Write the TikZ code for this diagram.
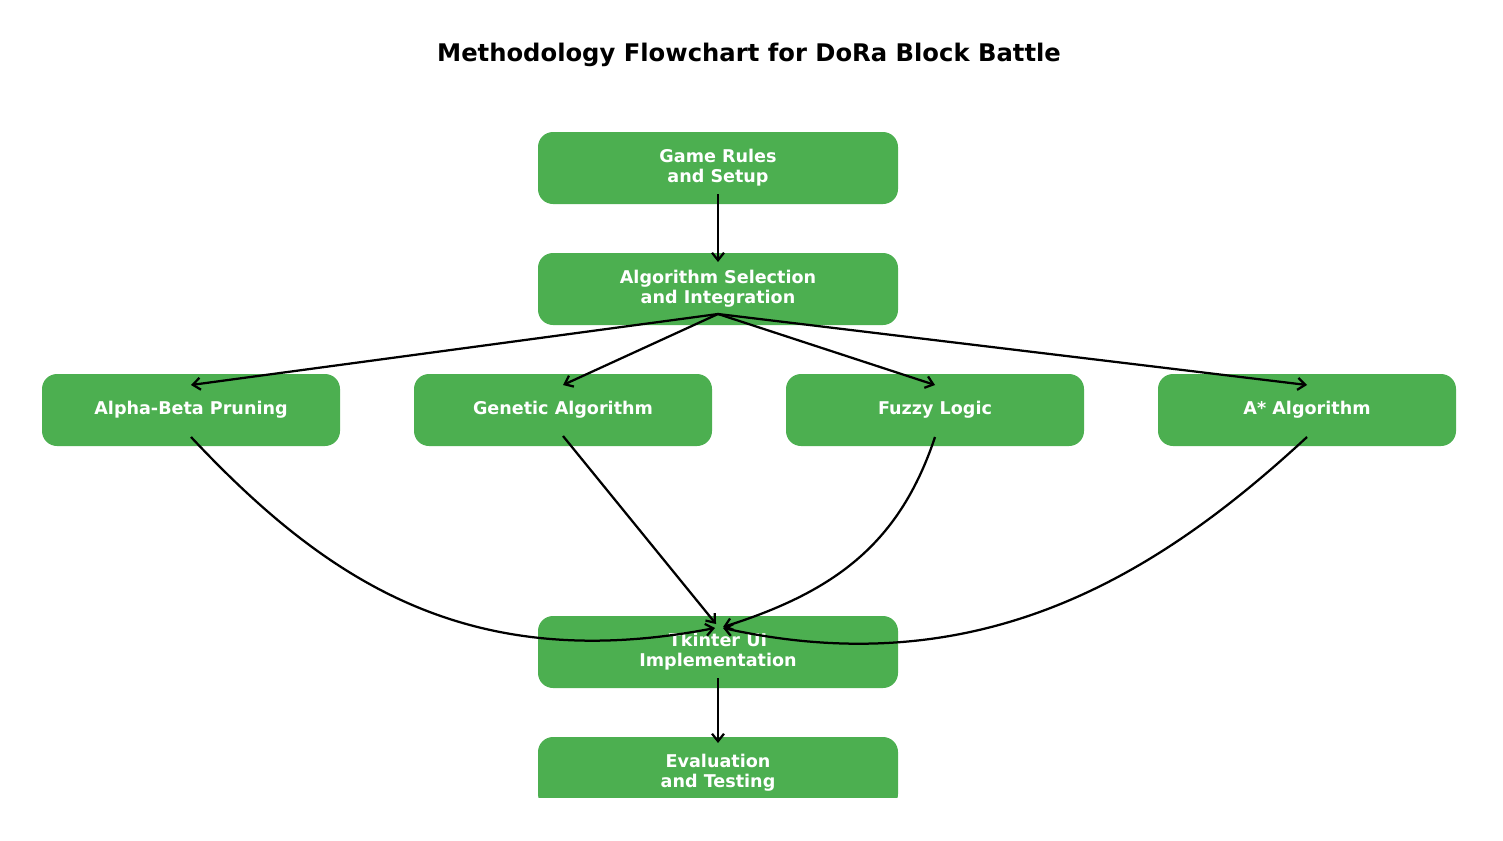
\documentclass[tikz,border=0pt]{standalone}
\usepackage{fontspec}
\setmainfont{DejaVu Sans}
\usetikzlibrary{arrows.meta}

\definecolor{boxgreen}{RGB}{76,175,80}

\tikzset{
    block/.style={fill=boxgreen, rounded corners=0.3cm, minimum height=1.44cm, minimum width=7.2cm,
                  text=white, font=\fontsize{10}{11.4}\selectfont\bfseries, align=center, inner sep=0pt},
    algobox/.style={block, minimum width=5.96cm},
    flow/.style={-{Straight Barb[length=1.5mm,width=2.4mm]}, line width=0.045cm, black},
}

\begin{document}
\begin{tikzpicture}
    \useasboundingbox (0,0) rectangle (30.06,-16.8);
    \clip (0,0) rectangle (30.06,-15.94);

    \node[font=\fontsize{13.8}{16}\selectfont\bfseries] (title) at (14.98,-1.1) {Methodology Flowchart for DoRa Block Battle};

    \node[block] (game) at (14.36,-3.36)        {Game Rules\\and Setup};
    \node[block] (algo) at (14.36,-5.78)        {Algorithm Selection\\and Integration};
    \node[algobox] (alpha) at (3.82,-8.2)       {Alpha-Beta Pruning};
    \node[algobox] (genetic) at (11.26,-8.2)    {Genetic Algorithm};
    \node[algobox] (fuzzy) at (18.7,-8.2)       {Fuzzy Logic};
    \node[algobox] (astar) at (26.14,-8.2)      {A* Algorithm};
    \node[block] (tk) at (14.36,-13.04)         {Tkinter UI\\Implementation};
    \node[block] (eval) at (14.36,-15.46)       {Evaluation\\and Testing};

    \draw[flow] ([yshift=-0.52cm]game.center) -- ([yshift=0.54cm]algo.center);
    \foreach \n in {alpha,genetic,fuzzy,astar}
        \draw[flow] ([yshift=-0.5cm]algo.center) -- ([yshift=0.5cm]\n.center);

    \draw[flow] ([yshift=-0.54cm]alpha.center) .. controls (6.56,-11.66) and (9.4,-13.5) .. ([xshift=-0.06cm,yshift=0.48cm]tk.center);
    \draw[flow] ([yshift=-0.52cm]genetic.center) -- ([xshift=-0.04cm,yshift=0.56cm]tk.center);
    \draw[flow] ([yshift=-0.54cm]fuzzy.center) .. controls (18,-10.84) and (16.74,-11.82) .. ([xshift=0.1cm,yshift=0.5cm]tk.center);
    \draw[flow] ([yshift=-0.54cm]astar.center) .. controls (23.16,-11.5) and (19.62,-13.7) .. ([xshift=0.1cm,yshift=0.48cm]tk.center);
    \draw[flow] ([yshift=-0.52cm]tk.center) -- ([yshift=0.6cm]eval.center);
\end{tikzpicture}
\end{document}
